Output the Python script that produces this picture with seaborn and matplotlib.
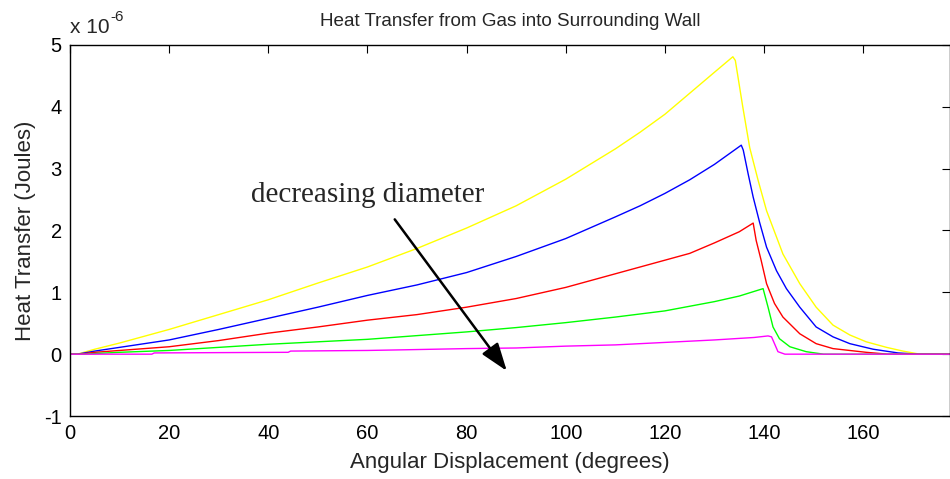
import numpy as np
import pandas as pd
import matplotlib
matplotlib.use("Agg")
import matplotlib.pyplot as plt
import seaborn as sns

# ----------- data (heat transfer in units of 1e-6 J) -----------
yellow_deg = [0, 1.5, 5, 10, 20, 30, 40, 50, 60, 70, 80, 90, 100, 110, 115, 120, 125, 130,
              133.7, 134.2, 135.7, 137.1, 138.8, 140.5, 143.8, 147.2, 150.5, 153.9, 157.3,
              160.6, 164.7, 168, 171.4, 177.5]
yellow_q = [0, 0, 0.08, 0.18, 0.40, 0.64, 0.88, 1.15, 1.41, 1.71, 2.04, 2.40, 2.83, 3.32, 3.59,
            3.88, 4.22, 4.56, 4.81, 4.75, 4.00, 3.34, 2.81, 2.32, 1.62, 1.14, 0.76, 0.47, 0.31,
            0.20, 0.11, 0.05, 0.0, 0.0]

blue_deg = [0, 1.5, 5, 10, 20, 30, 40, 50, 60, 70, 80, 90, 100, 110, 115, 120, 125, 130,
            135.4, 135.8, 136.8, 137.8, 139.1, 140.5, 142.5, 144.5, 147.2, 150.5, 153.9, 157.3,
            162, 167, 171, 177.5]
blue_q = [0, 0, 0.05, 0.11, 0.23, 0.40, 0.58, 0.76, 0.95, 1.12, 1.32, 1.58, 1.87, 2.22, 2.40,
          2.60, 2.82, 3.07, 3.38, 3.30, 2.91, 2.54, 2.13, 1.73, 1.35, 1.06, 0.76, 0.44, 0.28,
          0.17, 0.08, 0.02, 0.0, 0.0]

red_deg = [0, 2, 5, 10, 20, 30, 40, 50, 60, 70, 80, 90, 100, 110, 120, 125, 130, 135, 137.8,
           138.4, 139.4, 140.5, 142.1, 143.8, 147.2, 150.5, 153.9, 160.6, 165, 177.5]
red_q = [0, 0, 0.03, 0.06, 0.12, 0.22, 0.34, 0.44, 0.55, 0.64, 0.76, 0.90, 1.08, 1.30, 1.52,
         1.63, 1.80, 1.98, 2.12, 1.84, 1.52, 1.14, 0.82, 0.60, 0.33, 0.17, 0.09, 0.03, 0.0, 0.0]

green_deg = [0, 3, 5, 10, 20, 30, 40, 50, 60, 70, 80, 90, 100, 110, 120, 130, 135, 139.8,
             140.8, 141.8, 143.1, 145.2, 148.5, 152, 177.5]
green_q = [0, 0, 0.01, 0.03, 0.06, 0.11, 0.16, 0.20, 0.24, 0.30, 0.36, 0.43, 0.51, 0.60, 0.70,
           0.85, 0.94, 1.06, 0.76, 0.44, 0.25, 0.12, 0.04, 0.0, 0.0]

magenta_deg = [0, 16.5, 17, 30, 44, 44.5, 60, 67, 80, 90, 100, 110, 120, 130, 138, 140.8,
               141.5, 142.1, 142.8, 144.2, 177.5]
magenta_q = [0, 0, 0.02, 0.025, 0.03, 0.05, 0.06, 0.07, 0.09, 0.10, 0.13, 0.15, 0.19, 0.23,
             0.27, 0.295, 0.28, 0.17, 0.04, 0.0, 0.0]

series = {"yellow": (yellow_deg, yellow_q), "blue": (blue_deg, blue_q), "red": (red_deg, red_q),
          "green": (green_deg, green_q), "magenta": (magenta_deg, magenta_q)}
colors = {"yellow": "#ffff00", "blue": "#0000ff", "red": "#ff0000",
          "green": "#00ff00", "magenta": "#ff00ff"}

df = pd.concat([pd.DataFrame({"angle": d, "heat": q, "case": name})
                for name, (d, q) in series.items()], ignore_index=True)

sns.set_style("white")
plt.rcParams["font.family"] = ["Liberation Sans", "DejaVu Sans"]
plt.rcParams["axes.unicode_minus"] = False

fig = plt.figure(figsize=(9.5, 4.79), dpi=100)
ax = fig.add_axes([70 / 950, 63 / 479, 880 / 950, 371 / 479])

sns.lineplot(data=df, x="angle", y="heat", hue="case", palette=colors, estimator=None,
             sort=False, linewidth=1.0, legend=False, ax=ax)

ax.set_xlim(0, 177.5)
ax.set_ylim(-1, 5)
ax.set_xticks(range(0, 180, 20))
ax.set_yticks(range(-1, 6))
ax.tick_params(direction="in", length=6, width=0.8, labelsize=14.5, top=True, right=True,
               pad=6, colors="black")
for s in ax.spines.values():
    s.set_visible(True)
    s.set_color("black")
    s.set_linewidth(1.0)

ax.set_title("Heat Transfer from Gas into Surrounding Wall", fontsize=13.6, pad=14)
ax.set_xlabel("Angular Displacement (degrees)", fontsize=16, labelpad=6)
ax.set_ylabel("Heat Transfer (Joules)", fontsize=16, labelpad=6)

# exponent marker, MATLAB style
fig.text(70 / 950, 1 - 33 / 479, "x 10", fontsize=15, ha="left", va="baseline")
fig.text(110 / 950, 1 - 21 / 479, "-6", fontsize=11, ha="left", va="baseline")

ax.text(36.6, 2.46, "decreasing diameter", fontsize=21, family="Liberation Serif",
        ha="left", va="baseline")
ax.annotate("", xy=(88.1, -0.27), xytext=(65.5, 2.18),
            arrowprops=dict(arrowstyle="-|>,head_length=1.7,head_width=0.6", color="black",
                            lw=1.8, shrinkA=0, shrinkB=0))

fig.savefig("out.png", dpi=100)
